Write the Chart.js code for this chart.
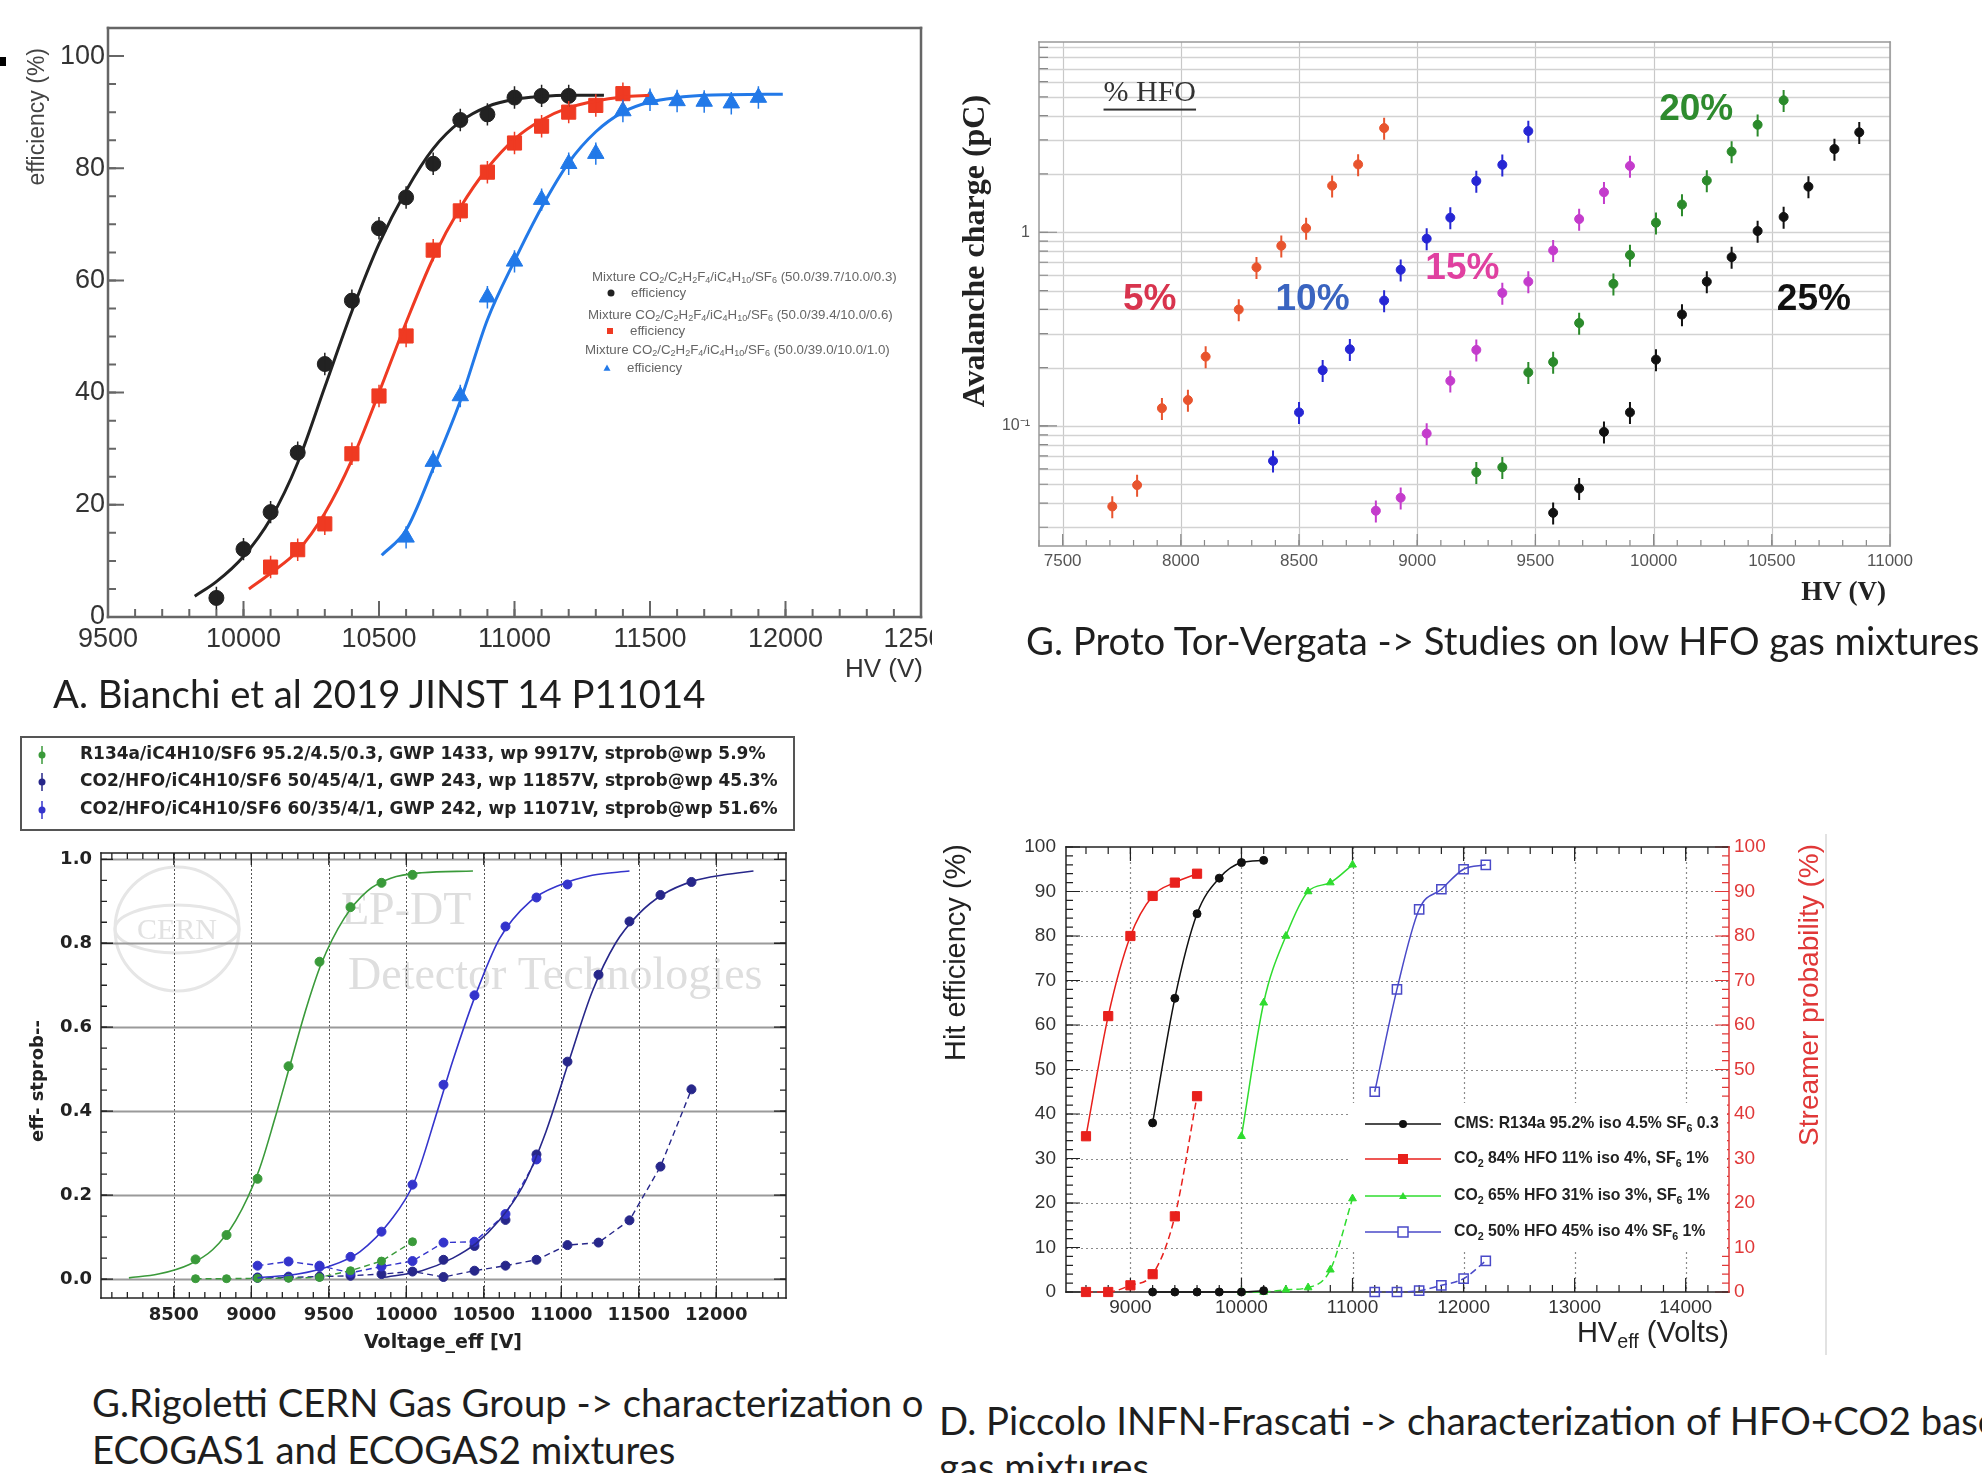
<!DOCTYPE html>
<html>
<head>
<meta charset="utf-8">
<title>HFO gas mixtures - efficiency studies</title>
<script src="https://cdn.jsdelivr.net/npm/chart.js@4.4.1/dist/chart.umd.min.js"></script>
<style>
  html, body { margin: 0; padding: 0; background: #fff; }
  body { position: relative; width: 1982px; height: 1473px; overflow: hidden; }
  canvas { position: absolute; }
  .cap { position: absolute; white-space: nowrap; font-family: Lato, 'Open Sans', sans-serif; color: #1e1e1e; line-height: 1; }
  #dot { position: absolute; left: 0; top: 57px; width: 6px; height: 9px; background: #000; }
</style>
</head>
<body>
<div id="dot"></div>
<canvas id="chA" width="932" height="690" style="left:0;top:0"></canvas>
<canvas id="chG" width="1032" height="625" style="left:950px;top:0"></canvas>
<canvas id="chC" width="800" height="650" style="left:0;top:725px"></canvas>
<canvas id="chD" width="1052" height="545" style="left:930px;top:830px"></canvas>
<div class="cap" id="capA">A. Bianchi et al 2019 JINST 14 P11014</div>
<div class="cap" id="capG">G. Proto Tor-Vergata -&gt; Studies on low HFO gas mixtures</div>
<div class="cap" id="capC1">G.Rigoletti CERN Gas Group -&gt; characterization o</div>
<div class="cap" id="capC2">ECOGAS1 and ECOGAS2 mixtures</div>
<div class="cap" id="capD1">D. Piccolo INFN-Frascati -&gt; characterization of HFO+CO2 based</div>
<div class="cap" id="capD2">gas mixtures</div>
<script>
// ---------- A. Bianchi : efficiency (%) vs HV (V) ----------
const aXTicks = [9500, 10000, 10500, 11000, 11500, 12000, 12500];
const aYTicks = [0, 20, 40, 60, 80, 100];
const aHV1 = [9900, 10000, 10100, 10200, 10300, 10400, 10500, 10600, 10700, 10800, 10900, 11000, 11100, 11200];
const aEff1 = [3.4, 12.1, 18.7, 29.3, 45.1, 56.4, 69.3, 74.8, 80.8, 88.6, 89.6, 92.6, 92.9, 92.9];
const aHV2 = [10100, 10200, 10300, 10400, 10500, 10600, 10700, 10800, 10900, 11000, 11100, 11200, 11300, 11400];
const aEff2 = [8.9, 12.0, 16.6, 29.1, 39.4, 50.1, 65.4, 72.4, 79.3, 84.5, 87.5, 90.0, 91.2, 93.3];
const aHV3 = [10600, 10700, 10800, 10900, 11000, 11100, 11200, 11300, 11400, 11500, 11600, 11700, 11800, 11900];
const aEff3 = [14.2, 27.7, 39.4, 57.0, 63.4, 74.4, 80.8, 82.6, 90.2, 92.2, 92.0, 91.9, 91.6, 92.6];
const aFitHV1 = [9820, 9900, 10000, 10100, 10200, 10300, 10400, 10500, 10600, 10700, 10800, 10900, 11000, 11100, 11200, 11330];
const aFit1 = [3.7, 6.3, 10.8, 17.5, 27.5, 41, 54.5, 66.5, 76, 83.5, 88.3, 91, 92.3, 92.8, 93, 93];
const aFitHV2 = [10020, 10100, 10200, 10300, 10400, 10500, 10600, 10700, 10800, 10900, 11000, 11100, 11200, 11300, 11400, 11500];
const aFit2 = [5, 7.8, 11.8, 18.5, 28, 40, 52.5, 64, 73, 80, 85.2, 88.6, 90.8, 92, 92.7, 93];
const aFitHV3 = [10510, 10600, 10700, 10800, 10900, 11000, 11100, 11200, 11300, 11400, 11500, 11600, 11700, 11800, 11990];
const aFit3 = [11, 15.5, 26.5, 38.5, 53, 63.5, 73, 81, 86.5, 90, 91.8, 92.6, 93, 93.1, 93.2];
const aLegend = [
  'Mixture CO_{2}/C_{2}H_{2}F_{4}/iC_{4}H_{10}/SF_{6} (50.0/39.7/10.0/0.3)',
  'Mixture CO_{2}/C_{2}H_{2}F_{4}/iC_{4}H_{10}/SF_{6} (50.0/39.4/10.0/0.6)',
  'Mixture CO_{2}/C_{2}H_{2}F_{4}/iC_{4}H_{10}/SF_{6} (50.0/39.0/10.0/1.0)'
];

// ---------- G. Proto : avalanche charge (pC) vs HV (V) ----------
const gXTicks = [7500, 8000, 8500, 9000, 9500, 10000, 10500, 11000];
const gYLabels = [0.1, 1];
const g5HV = [7710, 7815, 7920, 8030, 8105, 8245, 8320, 8425, 8530, 8640, 8750, 8860];
const g5Q = [0.0384, 0.0495, 0.1235, 0.136, 0.228, 0.399, 0.659, 0.852, 1.05, 1.74, 2.24, 3.45];
const g10HV = [8390, 8500, 8600, 8715, 8860, 8930, 9040, 9140, 9250, 9360, 9470];
const g10Q = [0.066, 0.1175, 0.194, 0.249, 0.444, 0.64, 0.927, 1.19, 1.84, 2.23, 3.33];
const g15HV = [8825, 8930, 9040, 9140, 9250, 9360, 9470, 9575, 9685, 9790, 9900];
const g15Q = [0.0365, 0.0426, 0.0914, 0.171, 0.247, 0.486, 0.556, 0.806, 1.17, 1.61, 2.2];
const g20HV = [9250, 9360, 9470, 9575, 9685, 9830, 9900, 10010, 10120, 10225, 10330, 10440, 10550];
const g20Q = [0.0576, 0.0612, 0.189, 0.214, 0.34, 0.542, 0.763, 1.12, 1.39, 1.85, 2.61, 3.59, 4.8];
const g25HV = [9575, 9685, 9790, 9900, 10010, 10120, 10225, 10330, 10440, 10550, 10655, 10765, 10870];
const g25Q = [0.0356, 0.0476, 0.0932, 0.1175, 0.22, 0.376, 0.556, 0.744, 1.015, 1.2, 1.72, 2.69, 3.28];

// ---------- G. Rigoletti : eff / stprob vs Voltage_eff ----------
const cXTicks = [8500, 9000, 9500, 10000, 10500, 11000, 11500, 12000];
const cYTicks = [0, 0.2, 0.4, 0.6, 0.8, 1.0];
const cGreenHV = [8640, 8840, 9040, 9240, 9440, 9640, 9840, 10040];
const cGreenEff = [0.047, 0.105, 0.239, 0.507, 0.756, 0.886, 0.944, 0.963];
const cGreenStp = [0.001, 0.001, 0.002, 0.002, 0.004, 0.02, 0.043, 0.089];
const cGreenFitHV = [8210, 8400, 8600, 8750, 8900, 9050, 9150, 9250, 9350, 9450, 9600, 9750, 9900, 10100, 10430];
const cGreenFit = [0.003, 0.012, 0.035, 0.07, 0.14, 0.26, 0.38, 0.51, 0.64, 0.75, 0.86, 0.925, 0.955, 0.968, 0.972];
const cBlue1HV = [9040, 9240, 9440, 9640, 9840, 10040, 10240, 10440, 10640, 10840, 11040];
const cBlue1Eff = [0.004, 0.006, 0.029, 0.053, 0.113, 0.225, 0.463, 0.676, 0.84, 0.909, 0.94];
const cBlue1StpHV = [9040, 9240, 9440, 9640, 9840, 10040, 10240, 10440, 10640, 10840];
const cBlue1Stp = [0.032, 0.042, 0.032, 0.015, 0.03, 0.043, 0.087, 0.089, 0.155, 0.285];
const cBlue1FitHV = [9040, 9300, 9500, 9700, 9900, 10050, 10200, 10300, 10450, 10600, 10800, 11000, 11200, 11440];
const cBlue1Fit = [0.003, 0.012, 0.03, 0.065, 0.14, 0.23, 0.40, 0.52, 0.68, 0.81, 0.9, 0.94, 0.962, 0.972];
const cBlue2HV = [10240, 10440, 10640, 10840, 11040, 11240, 11440, 11640, 11840];
const cBlue2Eff = [0.046, 0.079, 0.141, 0.297, 0.518, 0.725, 0.852, 0.915, 0.946];
const cBlue2StpHV = [9040, 9240, 9440, 9640, 9840, 10040, 10240, 10440, 10640, 10840, 11040, 11240, 11440, 11640, 11840];
const cBlue2Stp = [0.003, 0.004, 0.006, 0.008, 0.012, 0.018, 0.005, 0.02, 0.032, 0.046, 0.081, 0.087, 0.14, 0.268, 0.452];
const cBlue2FitHV = [9840, 10100, 10300, 10450, 10600, 10750, 10900, 11050, 11200, 11350, 11500, 11650, 11850, 12050, 12240];
const cBlue2Fit = [0.003, 0.02, 0.05, 0.085, 0.14, 0.22, 0.35, 0.52, 0.685, 0.80, 0.87, 0.915, 0.948, 0.963, 0.972];
const cLegend = [
  'R134a/iC4H10/SF6 95.2/4.5/0.3, GWP 1433, wp 9917V, stprob@wp 5.9%',
  'CO2/HFO/iC4H10/SF6 50/45/4/1, GWP 243, wp 11857V, stprob@wp 45.3%',
  'CO2/HFO/iC4H10/SF6 60/35/4/1, GWP 242, wp 11071V, stprob@wp 51.6%'
];

// ---------- D. Piccolo : hit efficiency / streamer probability (%) ----------
const dXTicks = [9000, 10000, 11000, 12000, 13000, 14000];
const dYTicks = [0, 10, 20, 30, 40, 50, 60, 70, 80, 90, 100];
const dHVcms = [9200, 9400, 9600, 9800, 10000, 10200];
const dEffCms = [38, 66, 85, 93, 96.5, 97];
const dStpCms = [0, 0, 0, 0, 0, 0.3];
const dHV84 = [8600, 8800, 9000, 9200, 9400, 9600];
const dEff84 = [35, 62, 80, 89, 92, 94];
const dStp84 = [0, 0, 1.5, 4, 17, 44];
const dHV65 = [10000, 10200, 10400, 10600, 10800, 11000];
const dEff65 = [35, 65, 80, 90, 92, 96];
const dStp65 = [0, 0, 0.5, 1, 5, 21];
const dHV50 = [11200, 11400, 11600, 11800, 12000, 12200];
const dEff50 = [45, 68, 86, 90.5, 95, 96];
const dStp50 = [0, 0, 0.3, 1.5, 3, 7];
const dLegend = [
  'CMS: R134a 95.2% iso 4.5% SF_{6} 0.3',
  'CO_{2} 84% HFO 11% iso 4%, SF_{6} 1%',
  'CO_{2} 65% HFO 31% iso 3%, SF_{6} 1%',
  'CO_{2} 50% HFO 45% iso 4% SF_{6} 1%'
];

// ---------- helpers ----------
const SANS = "'Liberation Sans', Arial, sans-serif";
const SERIF = "'Liberation Serif', 'Times New Roman', serif";
const DJ = "'DejaVu Sans', sans-serif";
Chart.defaults.font.family = SANS;

function range(a, b, st) {
  const out = [];
  for (let v = a; v <= b + 1e-9; v += st) out.push(+v.toFixed(6));
  return out;
}
function zip(xs, ys) { return xs.map((x, i) => ({ x: x, y: ys[i] })); }

function curve(xs, ys, color, width, dash, smooth) {
  return {
    data: zip(xs, ys), borderColor: color, borderWidth: width, borderDash: dash || [],
    pointRadius: 0, showLine: true, fill: false, clip: false,
    cubicInterpolationMode: smooth === false ? 'default' : 'monotone', tension: 0
  };
}
function marks(xs, ys, color, style, r, more) {
  return Object.assign({
    data: zip(xs, ys), showLine: false, pointStyle: style, pointRadius: r,
    pointBackgroundColor: color, pointBorderColor: color, pointBorderWidth: 1,
    borderColor: color, clip: false
  }, more || {});
}
function trace(xs, ys, color, width, dash, style, r, more, smooth) {
  return Object.assign(curve(xs, ys, color, width, dash, smooth), {
    pointStyle: style, pointRadius: r, pointBackgroundColor: color,
    pointBorderColor: color, pointBorderWidth: 1
  }, more || {});
}

function axis(c) {
  return {
    type: c.type || 'linear', position: c.position, min: c.min, max: c.max,
    grid: { display: false, drawTicks: false }, border: { display: false },
    afterBuildTicks: s => { s.ticks = c.ticks.map(v => ({ value: v })); },
    afterFit: s => {
      if (c.w !== undefined) s.width = c.w;
      if (c.h !== undefined) s.height = c.h;
      s.paddingLeft = s.paddingRight = s.paddingTop = s.paddingBottom = 0;
    },
    ticks: {
      autoSkip: false, maxRotation: 0, minRotation: 0, padding: c.pad,
      color: c.color || '#333', font: c.font, callback: c.fmt || (v => String(v))
    }
  };
}
function opts(padding, scales) {
  return {
    responsive: false, animation: false, events: [], layout: { padding: padding }, scales: scales,
    plugins: { legend: { display: false }, tooltip: { enabled: false } }
  };
}

// text with _{sub} subscripts
function richParts(str) {
  const parts = [];
  str.replace(/_\{([^}]*)\}|([^_]+|_)/g, (m, sub, txt) => {
    parts.push(sub !== undefined ? { t: sub, sub: true } : { t: txt, sub: false });
    return m;
  });
  return parts;
}
function drawRich(ctx, str, x, y, f, measureOnly) {
  const parts = richParts(str);
  const big = (f.weight || 'normal') + ' ' + f.size + 'px ' + f.family;
  const small = (f.weight || 'normal') + ' ' + (f.size * 0.68) + 'px ' + f.family;
  let total = 0;
  parts.forEach(p => { ctx.font = p.sub ? small : big; p.w = ctx.measureText(p.t).width; total += p.w; });
  if (measureOnly) return total;
  let cx = f.align === 'right' ? x - total : (f.align === 'center' ? x - total / 2 : x);
  ctx.save();
  ctx.fillStyle = f.color || '#222'; ctx.textAlign = 'left'; ctx.textBaseline = 'middle';
  parts.forEach(p => {
    ctx.font = p.sub ? small : big;
    ctx.fillText(p.t, cx, p.sub ? y + f.size * 0.3 : y);
    cx += p.w;
  });
  ctx.restore();
  return total;
}
const mctx = document.createElement('canvas').getContext('2d');
function fitSize(str, f, target) {
  const w = drawRich(mctx, str, 0, 0, Object.assign({}, f, { size: 100 }), true);
  return 100 * target / w;
}

function marker(ctx, style, x, y, r, color, open) {
  ctx.save();
  ctx.fillStyle = color; ctx.strokeStyle = color; ctx.lineWidth = 1.5;
  ctx.beginPath();
  if (style === 'circle') ctx.arc(x, y, r, 0, Math.PI * 2);
  else if (style === 'rect') ctx.rect(x - r, y - r, 2 * r, 2 * r);
  else if (style === 'triangle') { ctx.moveTo(x, y - r); ctx.lineTo(x + r, y + r * 0.75); ctx.lineTo(x - r, y + r * 0.75); ctx.closePath(); }
  if (open) ctx.stroke(); else ctx.fill();
  ctx.restore();
}

// frame, inner ticks and grid lines drawn through the chart scales
function framePlugin(cfg) {
  return {
    id: 'frame',
    beforeDatasetsDraw(chart) {
      const ctx = chart.ctx, a = chart.chartArea, sc = chart.scales;
      ctx.save();
      (cfg.grids || []).forEach(g => {
        const s = sc[g.scale];
        ctx.strokeStyle = g.color; ctx.lineWidth = g.width; ctx.setLineDash(g.dash || []);
        ctx.beginPath();
        g.values.forEach(v => {
          const p = Math.round(s.getPixelForValue(v)) + 0.5;
          if (s.isHorizontal()) { ctx.moveTo(p, a.top); ctx.lineTo(p, a.bottom); }
          else { ctx.moveTo(a.left, p); ctx.lineTo(a.right, p); }
        });
        ctx.stroke();
      });
      ctx.setLineDash([]);
      (cfg.ticks || []).forEach(t => {
        const s = sc[t.scale];
        ctx.strokeStyle = t.color || cfg.color; ctx.lineWidth = t.width || cfg.width;
        ctx.beginPath();
        t.values.forEach(v => {
          const p = s.getPixelForValue(v);
          t.edges.forEach(e => {
            if (e === 'bottom') { ctx.moveTo(p, a.bottom); ctx.lineTo(p, a.bottom - t.len); }
            if (e === 'top') { ctx.moveTo(p, a.top); ctx.lineTo(p, a.top + t.len); }
            if (e === 'left') { ctx.moveTo(a.left, p); ctx.lineTo(a.left + t.len, p); }
            if (e === 'right') { ctx.moveTo(a.right, p); ctx.lineTo(a.right - t.len, p); }
          });
        });
        ctx.stroke();
      });
      const c = cfg.sides || {};
      const side = (col, x1, y1, x2, y2) => {
        ctx.strokeStyle = col; ctx.lineWidth = cfg.width; ctx.lineCap = 'square';
        ctx.beginPath(); ctx.moveTo(x1, y1); ctx.lineTo(x2, y2); ctx.stroke();
      };
      side(c.top || cfg.color, a.left, a.top, a.right, a.top);
      side(c.bottom || cfg.color, a.left, a.bottom, a.right, a.bottom);
      side(c.left || cfg.color, a.left, a.top, a.left, a.bottom);
      side(c.right || cfg.color, a.right, a.top, a.right, a.bottom);
      ctx.restore();
    }
  };
}

// vertical error bars (absolute errY or relative errRel)
const errBars = {
  id: 'errBars',
  afterDatasetsDraw(chart) {
    const ctx = chart.ctx;
    chart.data.datasets.forEach((ds, i) => {
      if (!ds.errY && !ds.errRel) return;
      const meta = chart.getDatasetMeta(i);
      const ys = chart.scales[meta.yAxisID];
      ctx.save();
      ctx.strokeStyle = ds.pointBorderColor; ctx.lineWidth = ds.errWidth || 1.5;
      ctx.beginPath();
      ds.data.forEach((d, j) => {
        const px = meta.data[j].x;
        const lo = ds.errRel ? d.y * (1 - ds.errRel) : d.y - ds.errY;
        const hi = ds.errRel ? d.y * (1 + ds.errRel) : d.y + ds.errY;
        ctx.moveTo(px, ys.getPixelForValue(lo)); ctx.lineTo(px, ys.getPixelForValue(hi));
      });
      ctx.stroke();
      ctx.restore();
    });
  }
};

// free text: titles and annotations
function notesPlugin(items) {
  return {
    id: 'notes',
    afterDraw(chart) {
      const ctx = chart.ctx;
      items.forEach(it => {
        let x = it.x, y = it.y;
        if (it.data) { x = chart.scales.x.getPixelForValue(it.x); y = chart.scales[it.yAxis || 'y'].getPixelForValue(it.y); }
        ctx.save();
        ctx.translate(x, y);
        if (it.rot) ctx.rotate(it.rot * Math.PI / 180);
        const w = drawRich(ctx, it.text, 0, 0, it.f);
        if (it.underline) { ctx.fillStyle = it.f.color; ctx.fillRect(0, it.underline, w, 2); }
        ctx.restore();
      });
    }
  };
}

// ---------- chart A ----------
const A_BLACK = '#222', A_RED = '#ef3a22', A_BLUE = '#2279e8';
const aLegFs = fitSize(aLegend[0], { family: SANS }, 305);
const aLegendPlugin = {
  id: 'aLegend',
  afterDraw(chart) {
    const ctx = chart.ctx;
    const rows = [[592, 277, 611, 293, 'circle', A_BLACK], [588, 315, 610, 331, 'rect', A_RED], [585, 350, 607, 368, 'triangle', A_BLUE]];
    rows.forEach((r, i) => {
      drawRich(ctx, aLegend[i], r[0], r[1], { size: aLegFs, family: SANS, color: '#666' });
      marker(ctx, r[4], r[2], r[3], r[4] === 'rect' ? 3 : 3.5, r[5]);
      drawRich(ctx, 'efficiency', r[2] + 20, r[3], { size: aLegFs, family: SANS, color: '#666' });
    });
  }
};
new Chart(document.getElementById('chA'), {
  type: 'line',
  data: {
    datasets: [
      curve(aFitHV1, aFit1, A_BLACK, 3), curve(aFitHV2, aFit2, A_RED, 3), curve(aFitHV3, aFit3, A_BLUE, 3),
      marks(aHV1, aEff1, A_BLACK, 'circle', 7.5, { errY: 2 }),
      marks(aHV2, aEff2, A_RED, 'rect', 10, { errY: 2 }),
      marks(aHV3, aEff3, A_BLUE, 'triangle', 9.5, { errY: 2 })
    ]
  },
  options: opts({ left: 0, top: 28, right: 7, bottom: 0 }, {
    x: axis({ min: 9500, max: 12500, ticks: aXTicks, h: 73, pad: 6, font: { size: 27 }, color: '#333' }),
    y: axis({ min: 0, max: 105, ticks: aYTicks, w: 108, pad: 3, font: { size: 27 }, color: '#333' })
  }),
  plugins: [
    framePlugin({
      color: '#666', width: 2.5,
      ticks: [
        { scale: 'x', values: aXTicks, len: 16, edges: ['bottom'], width: 2 },
        { scale: 'x', values: range(9500, 12500, 100), len: 8, edges: ['bottom'], width: 2 },
        { scale: 'y', values: aYTicks, len: 16, edges: ['left'], width: 2 },
        { scale: 'y', values: range(0, 105, 5), len: 8, edges: ['left'], width: 2 }
      ]
    }),
    errBars, aLegendPlugin,
    notesPlugin([
      { text: 'efficiency (%)', x: 38, y: 48, rot: -90, f: { size: 23, family: SANS, color: '#444', align: 'right' } },
      { text: 'HV (V)', x: 923, y: 670, f: { size: 26, family: SANS, color: '#333', align: 'right' } }
    ])
  ]
});

// ---------- chart G ----------
const G5 = '#e8542e', G10 = '#2626d4', G15 = '#c43ccc', G20 = '#2b8a2b', G25 = '#111';
const gYGrid = [];
[0.01, 0.1, 1].forEach(d => { for (let k = 1; k <= 9; k++) { const v = +(d * k).toPrecision(3); if (v >= 0.024 && v <= 9.6) gYGrid.push(v); } });
new Chart(document.getElementById('chG'), {
  type: 'line',
  data: {
    datasets: [
      marks(g5HV, g5Q, G5, 'circle', 4.5, { errRel: 0.13, errWidth: 2 }),
      marks(g10HV, g10Q, G10, 'circle', 4.5, { errRel: 0.13, errWidth: 2 }),
      marks(g15HV, g15Q, G15, 'circle', 4.5, { errRel: 0.13, errWidth: 2 }),
      marks(g20HV, g20Q, G20, 'circle', 4.5, { errRel: 0.13, errWidth: 2 }),
      marks(g25HV, g25Q, G25, 'circle', 4.5, { errRel: 0.13, errWidth: 2 })
    ]
  },
  options: opts({ left: 0, top: 42, right: 92, bottom: 0 }, {
    x: axis({ min: 7400, max: 11000, ticks: gXTicks, h: 79, pad: 5, font: { size: 17 }, color: '#555' }),
    y: axis({
      type: 'logarithmic', min: 0.024, max: 9.6, ticks: gYGrid, w: 89, pad: 9, font: { size: 16 }, color: '#555',
      fmt: v => (gYLabels.some(l => Math.abs(l - v) < 1e-9) ? (v === 1 ? '1' : '10\u207B\u00B9') : '')
    })
  }),
  plugins: [
    framePlugin({
      color: '#999', width: 1.5,
      grids: [
        { scale: 'x', values: gXTicks, color: '#c8c8c8', width: 1.2 },
        { scale: 'y', values: gYGrid, color: '#d2d2d2', width: 1.5 }
      ],
      ticks: [
        { scale: 'x', values: gXTicks, len: 12, edges: ['bottom'], color: '#888', width: 1.2 },
        { scale: 'x', values: range(7400, 11000, 100), len: 6, edges: ['bottom'], color: '#888', width: 1.2 },
        { scale: 'y', values: gYGrid, len: 9, edges: ['left'], color: '#888', width: 1.2 },
        { scale: 'y', values: gYLabels, len: 18, edges: ['left'], color: '#888', width: 1.2 }
      ]
    }),
    errBars,
    notesPlugin([
      { text: 'Avalanche charge (pC)', x: 26, y: 251, rot: -90, f: { size: 32, family: SERIF, weight: 'bold', color: '#222', align: 'center' } },
      { text: 'HV (V)', x: 936, y: 593, f: { size: 27, family: SERIF, weight: 'bold', color: '#222', align: 'right' } },
      { text: '% HFO', data: true, x: 7673, y: 5.2, underline: 15, f: { size: 30, family: SERIF, color: '#333' } },
      { text: '5%', data: true, x: 7868, y: 0.45, f: { size: 37, family: SANS, weight: 'bold', color: '#d8344e', align: 'center' } },
      { text: '10%', data: true, x: 8557, y: 0.45, f: { size: 37, family: SANS, weight: 'bold', color: '#3a64c0', align: 'center' } },
      { text: '15%', data: true, x: 9191, y: 0.65, f: { size: 37, family: SANS, weight: 'bold', color: '#e040a0', align: 'center' } },
      { text: '20%', data: true, x: 10180, y: 4.27, f: { size: 37, family: SANS, weight: 'bold', color: '#2e8b2e', align: 'center' } },
      { text: '25%', data: true, x: 10678, y: 0.45, f: { size: 37, family: SANS, weight: 'bold', color: '#111', align: 'center' } }
    ])
  ]
});

// ---------- chart C ----------
const C_GREEN = '#3a9a3a', C_NAVY = '#27278a', C_BLUE = '#3434cc';
const cLegFs = fitSize(cLegend[0], { family: DJ, weight: 'bold' }, 686);
const cExtras = {
  id: 'cExtras',
  beforeDraw(chart) {
    const ctx = chart.ctx;
    ctx.save();
    ctx.strokeStyle = '#e6e6e6'; ctx.lineWidth = 3;
    ctx.beginPath(); ctx.arc(177, 204, 62, 0, Math.PI * 2); ctx.stroke();
    ctx.beginPath(); ctx.ellipse(177, 204, 62, 24, 0, 0, Math.PI * 2); ctx.stroke();
    ctx.fillStyle = '#e2e2e2'; ctx.font = '30px ' + SERIF; ctx.textAlign = 'center'; ctx.textBaseline = 'middle';
    ctx.fillText('CERN', 177, 206);
    ctx.textAlign = 'left'; ctx.font = '46px ' + SERIF; ctx.fillStyle = '#dedede';
    ctx.fillText('EP-DT', 341, 187);
    ctx.fillText('Detector Technologies', 348, 252);
    ctx.restore();
  },
  afterDraw(chart) {
    const ctx = chart.ctx;
    ctx.save();
    ctx.fillStyle = '#fff'; ctx.fillRect(21, 12, 773, 93);
    ctx.strokeStyle = '#555'; ctx.lineWidth = 2; ctx.strokeRect(21, 12, 773, 93);
    const cols = [C_GREEN, C_NAVY, C_BLUE];
    [30, 57, 85].forEach((y, i) => {
      ctx.strokeStyle = cols[i]; ctx.lineWidth = 1.5;
      ctx.beginPath(); ctx.moveTo(42, y - 9); ctx.lineTo(42, y + 9); ctx.stroke();
      marker(ctx, 'circle', 42, y, 3.5, cols[i]);
      drawRich(ctx, cLegend[i], 80, y, { size: cLegFs, family: DJ, weight: 'bold', color: '#222' });
    });
    ctx.restore();
  }
};
new Chart(document.getElementById('chC'), {
  type: 'line',
  data: {
    datasets: [
      curve(cGreenFitHV, cGreenFit, C_GREEN, 1.6),
      curve(cBlue1FitHV, cBlue1Fit, C_BLUE, 1.6),
      curve(cBlue2FitHV, cBlue2Fit, C_NAVY, 1.6),
      trace(cGreenHV, cGreenStp, C_GREEN, 1.4, [6, 4], 'circle', 4, {}, false),
      trace(cBlue1StpHV, cBlue1Stp, C_BLUE, 1.4, [6, 4], 'circle', 4.5, {}, false),
      trace(cBlue2StpHV, cBlue2Stp, C_NAVY, 1.4, [6, 4], 'circle', 4.5, {}, false),
      marks(cGreenHV, cGreenEff, C_GREEN, 'circle', 4.5),
      marks(cBlue1HV, cBlue1Eff, C_BLUE, 'circle', 4.5),
      marks(cBlue2HV, cBlue2Eff, C_NAVY, 'circle', 4.5)
    ]
  },
  options: opts({ left: 0, top: 128, right: 14, bottom: 0 }, {
    x: axis({ min: 8030, max: 12450, ticks: cXTicks, h: 77, pad: 7, font: { size: 18, family: DJ, weight: 'bold' }, color: '#222' }),
    y: axis({ min: -0.045, max: 1.015, ticks: cYTicks, w: 101, pad: 9, font: { size: 18, family: DJ, weight: 'bold' }, color: '#222', fmt: v => v.toFixed(1) })
  }),
  plugins: [
    cExtras,
    framePlugin({
      color: '#222', width: 1.5,
      grids: [
        { scale: 'x', values: cXTicks, color: '#555', width: 1, dash: [2, 2] },
        { scale: 'y', values: cYTicks, color: '#9a9a9a', width: 2 }
      ],
      ticks: [
        { scale: 'x', values: cXTicks, len: 12, edges: ['bottom', 'top'], width: 1.3 },
        { scale: 'x', values: range(8100, 12400, 100), len: 6, edges: ['bottom', 'top'], width: 1.3 },
        { scale: 'y', values: cYTicks, len: 12, edges: ['left', 'right'], width: 1.3 },
        { scale: 'y', values: range(0, 1, 0.05), len: 6, edges: ['left', 'right'], width: 1.3 }
      ]
    }),
    notesPlugin([
      { text: 'eff- stprob--', x: 38, y: 356, rot: -90, f: { size: 18, family: DJ, weight: 'bold', color: '#222', align: 'center' } },
      { text: 'Voltage_eff [V]', x: 443, y: 618, f: { size: 19, family: DJ, weight: 'bold', color: '#222', align: 'center' } }
    ])
  ]
});

// ---------- chart D ----------
const D_BLACK = '#111', D_RED = '#e8201c', D_GREEN = '#2fdc2f', D_BLUE = '#4a4ac8', D_AXIS_RED = '#e03838';
const dLegFs = fitSize(dLegend[0], { family: SANS, weight: 'bold' }, 265);
const dLegendPlugin = {
  id: 'dLegend',
  beforeDatasetsDraw(chart) {
    const ctx = chart.ctx;
    ctx.save();
    ctx.fillStyle = '#fff'; ctx.fillRect(420, 273, 377, 149);
    const rows = [[294, D_BLACK, 'circle', 4, false], [329, D_RED, 'rect', 5, false], [366, D_GREEN, 'triangle', 4, false], [402, D_BLUE, 'rect', 5, true]];
    rows.forEach((r, i) => {
      ctx.strokeStyle = r[1]; ctx.lineWidth = 1.5;
      ctx.beginPath(); ctx.moveTo(435, r[0]); ctx.lineTo(511, r[0]); ctx.stroke();
      if (r[4]) { ctx.fillStyle = '#fff'; ctx.fillRect(473 - 5, r[0] - 5, 10, 10); }
      marker(ctx, r[2], 473, r[0], r[3], r[1], r[4]);
      drawRich(ctx, dLegend[i], 524, r[0], { size: dLegFs, family: SANS, weight: 'bold', color: '#222' });
    });
    ctx.strokeStyle = '#d8d8d8'; ctx.lineWidth = 1.5;
    ctx.beginPath(); ctx.moveTo(896, 4); ctx.lineTo(896, 525); ctx.stroke();
    ctx.restore();
  }
};
new Chart(document.getElementById('chD'), {
  type: 'line',
  data: {
    datasets: [
      trace(dHVcms, dEffCms, D_BLACK, 1.5, [], 'circle', 4),
      trace(dHVcms, dStpCms, D_BLACK, 1.5, [], 'circle', 4, { yAxisID: 'y2' }),
      trace(dHV84, dEff84, D_RED, 1.5, [], 'rect', 6.5),
      trace(dHV84, dStp84, D_RED, 1.5, [7, 4], 'rect', 6.5, { yAxisID: 'y2' }),
      trace(dHV65, dEff65, D_GREEN, 1.5, [], 'triangle', 4.5),
      trace(dHV65, dStp65, D_GREEN, 1.5, [7, 4], 'triangle', 4.5, { yAxisID: 'y2' }),
      trace(dHV50, dEff50, D_BLUE, 1.5, [], 'rect', 6.5, { pointBackgroundColor: 'rgba(255,255,255,0)', pointBorderWidth: 1.5 }),
      trace(dHV50, dStp50, D_BLUE, 1.5, [7, 4], 'rect', 6.5, { yAxisID: 'y2', pointBackgroundColor: 'rgba(255,255,255,0)', pointBorderWidth: 1.5 })
    ]
  },
  options: opts({ left: 0, top: 17, right: 193, bottom: 0 }, {
    x: axis({ min: 8420, max: 14390, ticks: dXTicks, h: 83, pad: 4, font: { size: 19 }, color: '#333' }),
    y: axis({ min: 0, max: 100, ticks: dYTicks, w: 136, pad: 10, font: { size: 19 }, color: '#333' }),
    y2: axis({ position: 'right', min: 0, max: 100, ticks: dYTicks, w: 60, pad: 5, font: { size: 19 }, color: D_AXIS_RED })
  }),
  plugins: [
    framePlugin({
      color: '#222', width: 1.5, sides: { right: D_AXIS_RED },
      grids: [
        { scale: 'x', values: dXTicks, color: '#8a8a8a', width: 1.2, dash: [2, 3] },
        { scale: 'y', values: dYTicks.slice(1, -1), color: '#8a8a8a', width: 1.2, dash: [2, 3] }
      ],
      ticks: [
        { scale: 'x', values: dXTicks, len: 14, edges: ['bottom', 'top'], width: 1.2 },
        { scale: 'x', values: range(8600, 14200, 200), len: 7, edges: ['bottom', 'top'], width: 1.2 },
        { scale: 'y', values: dYTicks, len: 14, edges: ['left'], width: 1.2 },
        { scale: 'y', values: range(0, 100, 2), len: 7, edges: ['left'], width: 1.2 },
        { scale: 'y2', values: dYTicks, len: 14, edges: ['right'], color: D_AXIS_RED, width: 1.2 },
        { scale: 'y2', values: range(0, 100, 2), len: 7, edges: ['right'], color: D_AXIS_RED, width: 1.2 }
      ]
    }),
    dLegendPlugin,
    notesPlugin([
      { text: 'Hit efficiency (%)', x: 27, y: 14, rot: -90, f: { size: 29, family: SANS, color: '#222', align: 'right' } },
      { text: 'Streamer probability (%)', x: 880, y: 14, rot: -90, f: { size: 28, family: SANS, color: D_AXIS_RED, align: 'right' } },
      { text: 'HV_{eff} (Volts)', x: 799, y: 504, f: { size: 29, family: SANS, color: '#222', align: 'right' } }
    ])
  ]
});

// ---------- captions ----------
const capFs = fitSize('A. Bianchi et al 2019 JINST 14 P11014', { family: 'Lato' }, 655);
[['capA', 53, 708], ['capG', 1026, 655], ['capC1', 92, 1417], ['capC2', 92, 1464], ['capD1', 939, 1435], ['capD2', 939, 1481]]
  .forEach(c => {
    const el = document.getElementById(c[0]);
    el.style.fontSize = capFs + 'px';
    el.style.left = c[1] + 'px';
    el.style.top = (c[2] - 0.887 * capFs) + 'px';
  });
</script>
</body>
</html>
